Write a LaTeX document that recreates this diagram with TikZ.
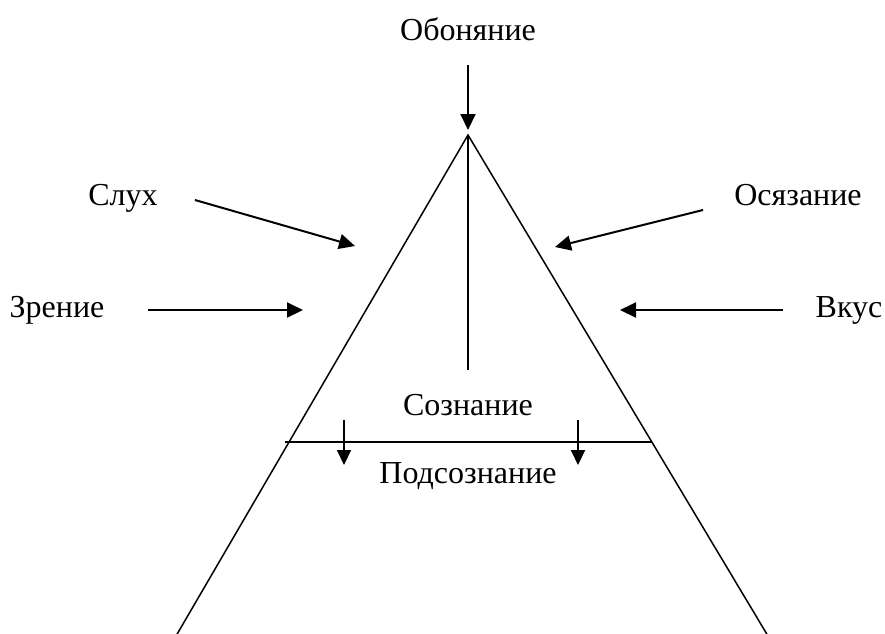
\documentclass[tikz,border=0pt]{standalone}
\usepackage{fontspec}
\setmainfont{Liberation Serif}
\usetikzlibrary{arrows.meta}
\begin{document}
\begin{tikzpicture}[x=1pt,y=-1pt,
  lbl/.style={font=\fontsize{32}{36}\selectfont, inner sep=0pt, anchor=base},
  arr/.style={line width=2pt, -{Triangle[length=16pt,width=15pt]}},
  sarr/.style={line width=2pt, -{Triangle[length=15pt,width=14pt]}},
  ln/.style={line width=1.5pt}]
\useasboundingbox (0,0) rectangle (885,633);
% triangle
\coordinate (apex) at (468,135);
\coordinate (bl) at (176,636);
\coordinate (br) at (768,636);
\draw[ln] (bl) -- (apex) -- (br);
\coordinate (vbot) at (468,370);
\draw[ln] (apex) -- (vbot);
\coordinate (hl) at (285,442);
\coordinate (hr) at (652,442);
\draw[ln] (hl) -- (hr);
% labels
\node[lbl] (obon) at (468,40) {Обоняние};
\node[lbl] (sluh) at (123,205) {Слух};
\node[lbl] (osyaz) at (798,205) {Осязание};
\node[lbl] (zren) at (57,317) {Зрение};
\node[lbl] (vkus) at (849,317) {Вкус};
\node[lbl] (soz) at (468,415) {Сознание};
\node[lbl] (podsoz) at (468,483) {Подсознание};
% arrows
\coordinate (a1s) at (468,65); \coordinate (a1e) at (468,130);
\draw[arr] (a1s) -- (a1e);
\coordinate (a2s) at (195,200); \coordinate (a2e) at (355,246);
\draw[arr] (a2s) -- (a2e);
\coordinate (a3s) at (703,210); \coordinate (a3e) at (555,247);
\draw[arr] (a3s) -- (a3e);
\coordinate (a4s) at (148,310); \coordinate (a4e) at (303,310);
\draw[arr] (a4s) -- (a4e);
\coordinate (a5s) at (783,310); \coordinate (a5e) at (620,310);
\draw[arr] (a5s) -- (a5e);
\coordinate (a6s) at (344,420); \coordinate (a6e) at (344,465);
\draw[sarr] (a6s) -- (a6e);
\coordinate (a7s) at (578,420); \coordinate (a7e) at (578,465);
\draw[sarr] (a7s) -- (a7e);
\end{tikzpicture}
\end{document}
